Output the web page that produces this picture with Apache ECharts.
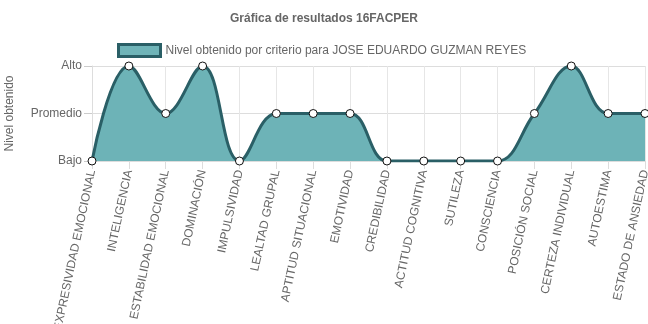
<!DOCTYPE html>
<html><head><meta charset="utf-8">
<script src="https://cdn.jsdelivr.net/npm/echarts@6/dist/echarts.min.js"></script>
<style>html,body{margin:0;padding:0;background:#fff}#c{width:648px;height:324px}</style>
</head><body><div id="c"></div>
<script>
const categories = ["EXPRESIVIDAD EMOCIONAL","INTELIGENCIA","ESTABILIDAD EMOCIONAL","DOMINACIÓN","IMPULSIVIDAD","LEALTAD GRUPAL","APTITUD SITUACIONAL","EMOTIVIDAD","CREDIBILIDAD","ACTITUD COGNITIVA","SUTILEZA","CONSCIENCIA","POSICIÓN SOCIAL","CERTEZA INDIVIDUAL","AUTOESTIMA","ESTADO DE ANSIEDAD"];
const values = [0,2,1,2,0,1,1,1,0,0,0,0,1,2,1,1];
const levelLabels = ["Bajo","Promedio","Alto"];
const seriesName = "Nivel obtenido por criterio para JOSE EDUARDO GUZMAN REYES";
const chart = echarts.init(document.getElementById('c'));
const font = "'Liberation Sans', Arial, sans-serif";
chart.setOption({
  animation:false,
  title:{text:"Gráfica de resultados 16FACPER",left:'center',top:8,textStyle:{fontSize:12,fontWeight:'bold',color:'#666',fontFamily:font}},
  legend:{top:38,left:112,itemWidth:42,itemHeight:12,itemGap:5,textStyle:{fontSize:12,color:'#666',fontFamily:font},
    data:[{name:seriesName,icon:'rect',itemStyle:{color:'#6fb4b8',borderColor:'#2a5f66',borderWidth:3}}]},
  grid:{left:92,right:3,top:66,bottom:163,containLabel:false,outerBoundsMode:'none'},
  xAxis:{type:'category',data:categories,boundaryGap:false,
    axisLine:{show:true,lineStyle:{color:'#ddd'}},
    axisTick:{show:true,length:8,lineStyle:{color:'#ddd'}},
    splitLine:{show:true,lineStyle:{color:'#e6e6e6'}},
    axisLabel:{rotate:78,interval:0,fontSize:12,color:'#666',fontFamily:font,margin:9}},
  yAxis:{type:'value',min:0,max:2,interval:1,name:'Nivel obtenido',nameLocation:'middle',nameGap:76,nameRotate:90,
    nameTextStyle:{fontSize:12,color:'#666',fontFamily:font},
    axisLine:{show:true,lineStyle:{color:'#ddd'}},
    axisTick:{show:true,length:8,lineStyle:{color:'#ccc'}},
    splitLine:{show:true,lineStyle:{color:'#ddd'}},
    axisLabel:{fontSize:12,color:'#666',fontFamily:font,margin:10,formatter:v=>levelLabels[v]||''}},
  series:[{name:seriesName,type:'line',data:values,smooth:0.4,symbol:'circle',symbolSize:8,
    lineStyle:{color:'#2a5f66',width:3},
    itemStyle:{color:'#fff',borderColor:'#111',borderWidth:1},
    areaStyle:{color:'#6db3b7',opacity:1}}]
});
</script></body></html>
